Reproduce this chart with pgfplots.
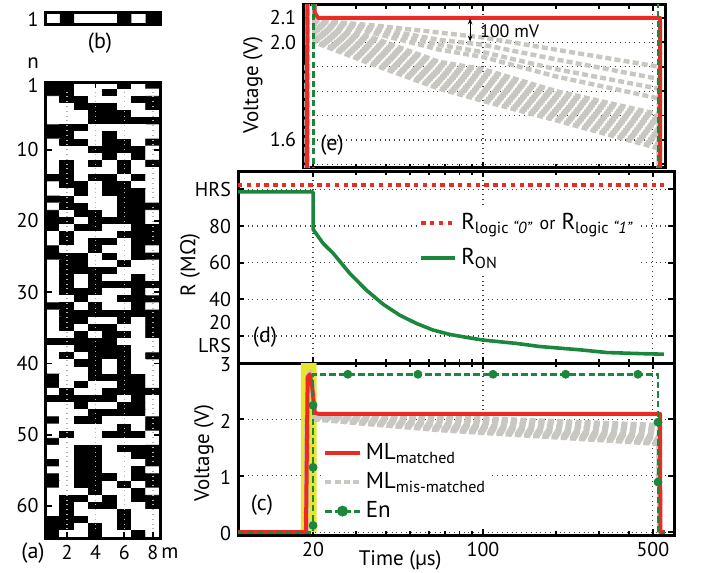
\documentclass[border=0pt]{standalone}
\usepackage{fontspec}
\setmainfont{PT Sans}
\newfontfamily\grk{Open Sans}
\usepackage{pgfplots}
\usepackage{pgfplotstable}
\pgfplotsset{compat=1.18}
\usetikzlibrary{arrows.meta}

\definecolor{mlred}{RGB}{237,41,36}
\definecolor{mmgray}{RGB}{201,199,193}
\definecolor{engreen}{RGB}{27,135,60}
\definecolor{hiyel}{RGB}{230,230,50}

\pgfplotsset{
  /pgf/number format/assume math mode=true,
  panel/.style={
    scale only axis,
    axis line style={line width=1.5pt},
    tick style={line width=0.9pt, black},
    major tick length=3pt, minor tick length=1.8pt,
    tick align=inside,
    tick label style={font=\fontsize{10}{12}\selectfont},
    label style={font=\fontsize{10.5}{12}\selectfont},
  },
  timeax/.style={
    panel,
    xtick={20,100,500}, minor xtick={30,40,50,60,70,80,90,200,300,400},
    grid=major, grid style={dotted, line width=0.6pt, black!75},
  },
  mm/.style={color=mmgray, line width=2.2pt, dash pattern=on 3pt off 1.6pt},
  ml/.style={color=mlred, line width=2pt, line join=round},
  en/.style={color=engreen, line width=1.4pt, dash pattern=on 3.2pt off 1.6pt},
}

% match-line voltage, matched word
\pgfplotstableread{
t v
9.8 0
18.7 0
19.0 2.75
19.4 2.8
19.8 2.6
20.3 2.12
21 2.1
535 2.1
537 0
560 0
}\mltable

% mis-matched words (one column per word)
\pgfplotstableread{
t v1 v2 v3 v4 v5 v6 v7 v8 v9 v10 v11 v12 v13 v14 v15 v16
18.7 0 0 0 0 0 0 0 0 0 0 0 0 0 0 0 0
19.0 2.75 2.75 2.75 2.75 2.75 2.75 2.75 2.75 2.75 2.75 2.75 2.75 2.75 2.75 2.75 2.75
19.4 2.8 2.8 2.8 2.8 2.8 2.8 2.8 2.8 2.8 2.8 2.8 2.8 2.8 2.8 2.8 2.8
19.8 2.6 2.6 2.6 2.6 2.6 2.6 2.6 2.6 2.6 2.6 2.6 2.6 2.6 2.6 2.6 2.6
20.3 2.000 2.006 2.013 2.019 2.025 2.032 2.038 2.045 2.051 2.057 2.064 2.070 2.090 2.085 2.080 2.075
35 1.910 1.920 1.930 1.940 1.950 1.960 1.970 1.980 1.990 2.000 2.010 2.020 2.070 2.060 2.050 2.040
66 1.810 1.820 1.830 1.840 1.850 1.860 1.870 1.880 1.890 1.900 1.910 1.920 2.040 2.010 1.990 1.970
100 1.760 1.772 1.784 1.795 1.807 1.819 1.831 1.843 1.855 1.866 1.878 1.890 2.020 1.990 1.960 1.940
200 1.680 1.691 1.702 1.713 1.724 1.735 1.745 1.756 1.767 1.778 1.789 1.800 1.970 1.930 1.890 1.860
530 1.565 1.578 1.590 1.603 1.616 1.629 1.641 1.654 1.667 1.680 1.692 1.705 1.900 1.850 1.810 1.770
532 0 0 0 0 0 0 0 0 0 0 0 0 0 0 0 0
}\mmtable

\pgfplotstableread{
t v
9.8 0
20 0
20 2.8
525 2.8
525 0
560 0
}\entable

\pgfplotstableread{
t v
20 0.12
20 1.15
20 2.25
27.8 2.8
54 2.8
110 2.8
219 2.8
434 2.8
525 1.95
525 0.89
}\enmarks

\pgfplotstableread{
t r
9.82 98.6
20.0 98.6
20.0 78.2
22 70.5
24.2 65.1
28.3 54.2
33.1 45.1
38.8 37.4
45.4 31.4
53.2 26.9
62.2 23.3
72.9 20.9
85.4 19.3
100 17.8
137 16.0
171 14.3
250 12.5
324 11.0
450 10.4
555 10.1
}\rontable

\begin{document}
\begin{tikzpicture}
\path[use as bounding box] (0pt,0pt) rectangle (351pt,-286.5pt);

% (b) the search word
\begin{axis}[panel, at={(22.75pt,-12.5pt)}, anchor=south west,
  width=57.25pt, height=6pt, xmin=0.5, xmax=8.5, ymin=0, ymax=1,
  xtick=\empty, ytick={0.5}, yticklabels={1}, major tick length=0pt, axis on top]
\addplot[ybar interval, fill=black, draw=none] coordinates {
  (0.5,0) (1.5,1) (2.5,0) (3.5,0) (4.5,0) (5.5,1) (6.5,0) (7.5,1) (8.5,1)};
\end{axis}

% (a) stored words
\begin{axis}[panel, at={(22.75pt,-269pt)}, anchor=south west,
  width=57.25pt, height=228pt, axis on top,
  xmin=0.5, xmax=8.5, ymin=0.5, ymax=64.5, y dir=reverse,
  xtick={2,4,6,8}, ytick={1,10,20,30,40,50,60},
  xmajorgrids, grid style={dotted, line width=0.7pt, gray!60},
  colormap={bw}{color=(white) color=(black)},
  point meta min=0, point meta max=1]
\addplot[matrix plot*, mesh/cols=8, point meta=explicit]
  table[x=x, y=y, meta=c, row sep=\\] {
x y c\\
1 1 1\\2 1 1\\3 1 0\\4 1 0\\5 1 0\\6 1 1\\7 1 0\\8 1 1\\
1 2 1\\2 2 1\\3 2 0\\4 2 0\\5 2 1\\6 2 0\\7 2 0\\8 2 0\\
1 3 0\\2 3 1\\3 3 1\\4 3 0\\5 3 0\\6 3 0\\7 3 1\\8 3 1\\
1 4 0\\2 4 0\\3 4 1\\4 4 1\\5 4 1\\6 4 0\\7 4 0\\8 4 1\\
1 5 0\\2 5 0\\3 5 0\\4 5 1\\5 5 1\\6 5 1\\7 5 0\\8 5 0\\
1 6 0\\2 6 0\\3 6 0\\4 6 1\\5 6 1\\6 6 1\\7 6 1\\8 6 1\\
1 7 1\\2 7 1\\3 7 1\\4 7 0\\5 7 0\\6 7 0\\7 7 0\\8 7 0\\
1 8 1\\2 8 1\\3 8 0\\4 8 0\\5 8 1\\6 8 0\\7 8 0\\8 8 0\\
1 9 0\\2 9 1\\3 9 1\\4 9 0\\5 9 1\\6 9 1\\7 9 0\\8 9 1\\
1 10 0\\2 10 0\\3 10 0\\4 10 1\\5 10 1\\6 10 1\\7 10 1\\8 10 0\\
1 11 0\\2 11 0\\3 11 0\\4 11 0\\5 11 1\\6 11 0\\7 11 1\\8 11 0\\
1 12 0\\2 12 1\\3 12 0\\4 12 1\\5 12 0\\6 12 1\\7 12 0\\8 12 1\\
1 13 0\\2 13 1\\3 13 0\\4 13 0\\5 13 0\\6 13 1\\7 13 0\\8 13 0\\
1 14 1\\2 14 1\\3 14 0\\4 14 1\\5 14 1\\6 14 0\\7 14 1\\8 14 0\\
1 15 0\\2 15 1\\3 15 1\\4 15 0\\5 15 1\\6 15 1\\7 15 0\\8 15 0\\
1 16 0\\2 16 0\\3 16 1\\4 16 0\\5 16 1\\6 16 1\\7 16 1\\8 16 0\\
1 17 1\\2 17 1\\3 17 0\\4 17 0\\5 17 0\\6 17 1\\7 17 1\\8 17 0\\
1 18 0\\2 18 1\\3 18 1\\4 18 0\\5 18 0\\6 18 1\\7 18 1\\8 18 1\\
1 19 1\\2 19 0\\3 19 1\\4 19 1\\5 19 0\\6 19 1\\7 19 1\\8 19 0\\
1 20 1\\2 20 1\\3 20 0\\4 20 1\\5 20 1\\6 20 1\\7 20 1\\8 20 0\\
1 21 1\\2 21 0\\3 21 1\\4 21 1\\5 21 0\\6 21 0\\7 21 1\\8 21 1\\
1 22 0\\2 22 1\\3 22 0\\4 22 0\\5 22 0\\6 22 1\\7 22 1\\8 22 1\\
1 23 0\\2 23 1\\3 23 0\\4 23 1\\5 23 1\\6 23 0\\7 23 1\\8 23 1\\
1 24 1\\2 24 0\\3 24 0\\4 24 1\\5 24 0\\6 24 0\\7 24 1\\8 24 0\\
1 25 1\\2 25 1\\3 25 1\\4 25 0\\5 25 1\\6 25 0\\7 25 1\\8 25 1\\
1 26 0\\2 26 1\\3 26 1\\4 26 0\\5 26 0\\6 26 1\\7 26 0\\8 26 0\\
1 27 0\\2 27 1\\3 27 1\\4 27 1\\5 27 1\\6 27 0\\7 27 0\\8 27 0\\
1 28 0\\2 28 1\\3 28 0\\4 28 1\\5 28 0\\6 28 0\\7 28 1\\8 28 0\\
1 29 0\\2 29 1\\3 29 0\\4 29 1\\5 29 1\\6 29 1\\7 29 1\\8 29 1\\
1 30 0\\2 30 1\\3 30 1\\4 30 1\\5 30 0\\6 30 0\\7 30 1\\8 30 0\\
1 31 0\\2 31 0\\3 31 1\\4 31 0\\5 31 0\\6 31 1\\7 31 1\\8 31 1\\
1 32 1\\2 32 1\\3 32 0\\4 32 1\\5 32 0\\6 32 0\\7 32 1\\8 32 0\\
1 33 0\\2 33 1\\3 33 1\\4 33 1\\5 33 1\\6 33 1\\7 33 1\\8 33 1\\
1 34 0\\2 34 1\\3 34 1\\4 34 0\\5 34 0\\6 34 1\\7 34 0\\8 34 1\\
1 35 0\\2 35 1\\3 35 0\\4 35 1\\5 35 1\\6 35 0\\7 35 0\\8 35 1\\
1 36 0\\2 36 0\\3 36 1\\4 36 0\\5 36 1\\6 36 1\\7 36 0\\8 36 1\\
1 37 1\\2 37 1\\3 37 1\\4 37 1\\5 37 1\\6 37 0\\7 37 0\\8 37 0\\
1 38 0\\2 38 0\\3 38 1\\4 38 1\\5 38 1\\6 38 1\\7 38 0\\8 38 0\\
1 39 0\\2 39 1\\3 39 0\\4 39 1\\5 39 1\\6 39 1\\7 39 0\\8 39 1\\
1 40 0\\2 40 0\\3 40 1\\4 40 1\\5 40 0\\6 40 1\\7 40 0\\8 40 0\\
1 41 0\\2 41 0\\3 41 0\\4 41 1\\5 41 0\\6 41 1\\7 41 0\\8 41 0\\
1 42 1\\2 42 0\\3 42 0\\4 42 1\\5 42 1\\6 42 1\\7 42 1\\8 42 0\\
1 43 1\\2 43 0\\3 43 1\\4 43 0\\5 43 0\\6 43 1\\7 43 1\\8 43 0\\
1 44 0\\2 44 1\\3 44 0\\4 44 0\\5 44 1\\6 44 1\\7 44 1\\8 44 1\\
1 45 1\\2 45 1\\3 45 1\\4 45 1\\5 45 1\\6 45 0\\7 45 1\\8 45 0\\
1 46 0\\2 46 0\\3 46 1\\4 46 0\\5 46 0\\6 46 1\\7 46 1\\8 46 0\\
1 47 0\\2 47 0\\3 47 0\\4 47 1\\5 47 1\\6 47 1\\7 47 1\\8 47 0\\
1 48 1\\2 48 0\\3 48 1\\4 48 1\\5 48 0\\6 48 0\\7 48 0\\8 48 1\\
1 49 0\\2 49 0\\3 49 0\\4 49 0\\5 49 0\\6 49 1\\7 49 0\\8 49 1\\
1 50 0\\2 50 1\\3 50 0\\4 50 0\\5 50 1\\6 50 1\\7 50 1\\8 50 0\\
1 51 1\\2 51 0\\3 51 0\\4 51 0\\5 51 0\\6 51 0\\7 51 0\\8 51 0\\
1 52 0\\2 52 0\\3 52 1\\4 52 1\\5 52 0\\6 52 1\\7 52 1\\8 52 1\\
1 53 0\\2 53 0\\3 53 1\\4 53 1\\5 53 0\\6 53 0\\7 53 1\\8 53 1\\
1 54 1\\2 54 0\\3 54 1\\4 54 1\\5 54 0\\6 54 0\\7 54 0\\8 54 1\\
1 55 0\\2 55 0\\3 55 1\\4 55 1\\5 55 0\\6 55 0\\7 55 1\\8 55 0\\
1 56 1\\2 56 0\\3 56 1\\4 56 1\\5 56 1\\6 56 0\\7 56 1\\8 56 1\\
1 57 1\\2 57 0\\3 57 1\\4 57 1\\5 57 0\\6 57 1\\7 57 0\\8 57 1\\
1 58 0\\2 58 0\\3 58 0\\4 58 1\\5 58 0\\6 58 0\\7 58 1\\8 58 0\\
1 59 0\\2 59 1\\3 59 1\\4 59 0\\5 59 1\\6 59 0\\7 59 1\\8 59 1\\
1 60 0\\2 60 1\\3 60 0\\4 60 1\\5 60 1\\6 60 0\\7 60 0\\8 60 1\\
1 61 0\\2 61 1\\3 61 0\\4 61 0\\5 61 0\\6 61 1\\7 61 0\\8 61 0\\
1 62 1\\2 62 1\\3 62 1\\4 62 0\\5 62 0\\6 62 1\\7 62 0\\8 62 0\\
1 63 1\\2 63 1\\3 63 0\\4 63 1\\5 63 0\\6 63 1\\7 63 0\\8 63 0\\
1 64 1\\2 64 0\\3 64 0\\4 64 1\\5 64 0\\6 64 0\\7 64 1\\8 64 0\\
};
\end{axis}

% (e) zoom on the match lines
\begin{axis}[timeax, xmode=log, at={(151.5pt,-84pt)}, anchor=south west,
  width=181pt, height=81.5pt,
  xmin=18.17, xmax=561, ymin=1.485, ymax=2.153,
  xticklabels={},
  ytick={1.5,1.6,1.7,1.8,1.9,2.0,2.1}, yticklabels={,1.6,,,,2.0,2.1},
  ylabel={Voltage (V)},
  ylabel style={at={(axis description cs:-0.138,0.51)}, anchor=center}]
\pgfplotsinvokeforeach{1,...,16}{
  \addplot[mm, forget plot] table[x=t, y=v#1] {\mmtable};
}
\addplot[ml] table[x=t, y=v] {\mltable};
\addplot[en] table[x=t, y=v] {\entable};
\draw[{Stealth[length=3pt]}-{Stealth[length=3pt]}, line width=0.6pt]
  (axis cs:88.5,2.098) -- (axis cs:88.5,2.003);
\node[anchor=west, font=\fontsize{9}{10}\selectfont] at (axis cs:91,2.045) {100 mV};
\end{axis}

% (d) resistance
\begin{axis}[timeax, xmode=log, at={(119pt,-181.5pt)}, anchor=south west,
  width=218pt, height=96pt,
  xmin=9.82, xmax=611, ymin=5.3, ymax=110,
  xticklabels={},
  ytick={20,40,60,80,100}, yticklabels={,40,60,80,HRS},
  extra y ticks={14.6,27.6}, extra y tick labels={LRS,20},
  extra y tick style={grid=none, major tick length=0pt},
  ylabel={R (M{\grk Ω})},
  ylabel style={at={(axis description cs:-0.11,0.51)}, anchor=center},
  legend style={at={(0.41,0.815)}, anchor=north west, draw=none, fill=white,
    font=\fontsize{11.5}{13}\selectfont, row sep=4pt, inner sep=1pt},
  legend cell align=left]
\addplot[color=mlred, line width=2pt, dash pattern=on 2.2pt off 2.2pt]
  coordinates {(9.82,102.4) (555,102.4)};
\addlegendentry{R\textsubscript{logic \textit{“0”}} {\fontsize{9}{10}\selectfont or} R\textsubscript{logic \textit{“1”}}}
\addplot[color=engreen, line width=1.8pt, line join=round] table[x=t, y=r] {\rontable};
\addlegendentry{R\textsubscript{ON}}
\end{axis}

% (c) match lines and enable
\begin{axis}[timeax, xmode=log, at={(119pt,-267.5pt)}, anchor=south west,
  width=218pt, height=86pt,
  xmin=9.82, xmax=611, ymin=-0.05, ymax=3,
  xticklabels={20,100,500}, ytick={0,1,2,3},
  yticklabel style={yshift=-0.8pt},
  xlabel={Time (µs)}, ylabel={Voltage (V)},
  xlabel style={at={(axis description cs:0.372,-0.145)}, anchor=center},
  ylabel style={at={(axis description cs:-0.078,0.477)}, anchor=center},
  legend style={at={(0.19,0.57)}, anchor=north west, draw=none, fill=white,
    font=\fontsize{11.5}{13}\selectfont, row sep=1pt, inner sep=1pt},
  legend cell align=left]
\addplot[fill=hiyel, draw=none, forget plot] coordinates {
  (17.8,-0.05) (17.8,3) (20.7,3) (20.7,-0.05)} \closedcycle;
\pgfplotsinvokeforeach{1,...,16}{
  \addplot[mm, forget plot] table[x=t, y=v#1] {\mmtable};
}
\addplot[ml] table[x=t, y=v] {\mltable};
\addlegendentry{ML\textsubscript{matched}}
\addlegendimage{mm}
\addlegendentry{ML\textsubscript{mis-matched}}
\addplot[en, forget plot] table[x=t, y=v] {\entable};
\addplot[only marks, mark=*, mark size=2pt, color=engreen, forget plot] table[x=t, y=v] {\enmarks};
\addlegendimage{en, mark=*, mark size=2pt, mark options={solid, fill=engreen}}
\addlegendentry{En}
\end{axis}

% panel letters and matrix labels
\node[font=\fontsize{11}{13}\selectfont] at (166pt,-72.5pt) {(e)};
\node[font=\fontsize{11}{13}\selectfont] at (132.5pt,-168.5pt) {(d)};
\node[font=\fontsize{11}{13}\selectfont] at (131pt,-252.5pt) {(c)};
\node[font=\fontsize{11}{13}\selectfont] at (50pt,-21.5pt) {(b)};
\node[font=\fontsize{11}{13}\selectfont] at (16.5pt,-276.5pt) {(a)};
\node[font=\fontsize{10.5}{12}\selectfont] at (16.5pt,-31.5pt) {n};
\node[font=\fontsize{10.5}{12}\selectfont] at (85pt,-276.5pt) {m};
\end{tikzpicture}
\end{document}
